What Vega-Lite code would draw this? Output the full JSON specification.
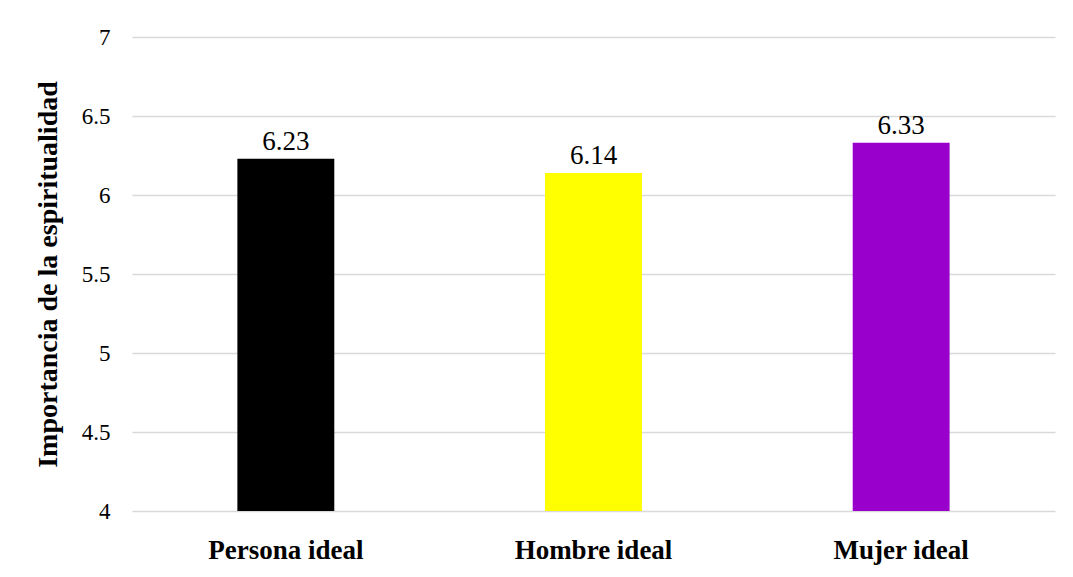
{
  "$schema": "https://vega.github.io/schema/vega-lite/v6.json",
  "autosize": "none",
  "width": 923,
  "height": 474,
  "padding": {"left": 132, "top": 37, "right": 18, "bottom": 66},
  "background": "white",
  "config": {
    "font": "Liberation Serif",
    "view": {"stroke": null}
  },
  "data": {
    "values": [
      {"grupo": "Persona ideal", "valor": 6.23, "color": "#000000"},
      {"grupo": "Hombre ideal", "valor": 6.14, "color": "#FFFF00"},
      {"grupo": "Mujer ideal", "valor": 6.33, "color": "#9900CC"}
    ]
  },
  "encoding": {
    "x": {
      "field": "grupo",
      "type": "nominal",
      "sort": null,
      "scale": {"paddingInner": 0.685, "paddingOuter": 0.3425},
      "axis": {
        "title": null,
        "labelAngle": 0,
        "labelFont": "Liberation Serif",
        "labelFontSize": 27,
        "labelFontWeight": "bold",
        "labelColor": "#000000",
        "labelPadding": 26,
        "ticks": false,
        "domain": false
      }
    }
  },
  "layer": [
    {
      "mark": {"type": "bar"},
      "encoding": {
        "y": {
          "field": "valor",
          "type": "quantitative",
          "scale": {"domain": [4, 7], "zero": false, "nice": false},
          "axis": {
            "title": "Importancia de la espiritualidad",
            "titleFont": "Liberation Serif",
            "titleFontSize": 28,
            "titleFontWeight": "bold",
            "titleColor": "#000000",
            "titlePadding": 19,
            "values": [4, 4.5, 5, 5.5, 6, 6.5, 7],
            "format": "~g",
            "labelFont": "Liberation Serif",
            "labelFontSize": 23,
            "labelColor": "#000000",
            "labelPadding": 22,
            "ticks": false,
            "domain": false,
            "grid": true,
            "gridColor": "#d9d9d9",
            "gridWidth": 1.5
          }
        },
        "y2": {"datum": 4},
        "color": {"field": "color", "type": "nominal", "scale": null, "legend": null}
      }
    },
    {
      "mark": {"type": "text", "baseline": "bottom", "dy": -3, "fontSize": 27, "font": "Liberation Serif", "color": "#000000"},
      "encoding": {
        "y": {"field": "valor", "type": "quantitative"},
        "text": {"field": "valor", "type": "quantitative", "format": ".2f"}
      }
    }
  ]
}
